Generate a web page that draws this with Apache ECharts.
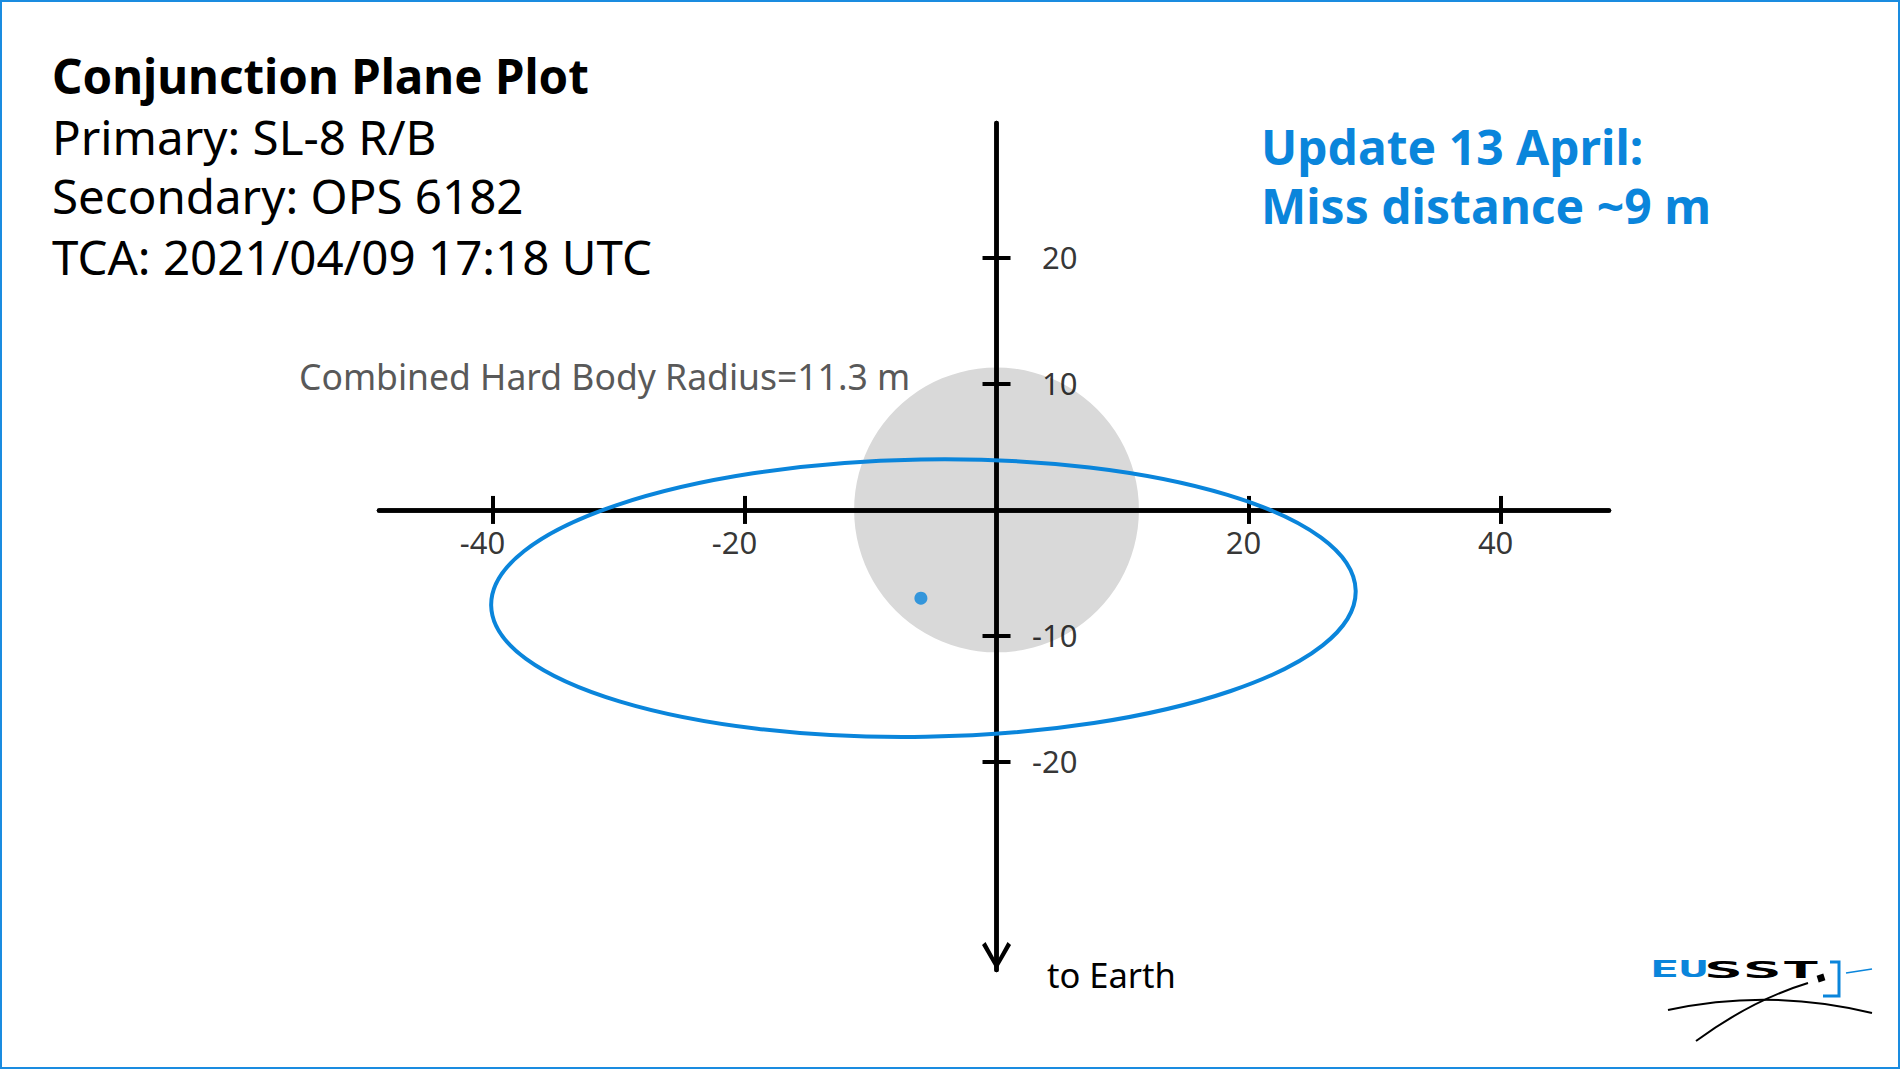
<!DOCTYPE html>
<html><head><meta charset="utf-8">
<script src="https://cdn.jsdelivr.net/npm/echarts@6/dist/echarts.min.js"></script>
<style>html,body{margin:0;padding:0;background:#fff}#c{width:1900px;height:1069px}</style>
</head><body><div id="c"></div>
<script>
// ---- data ----
const xTickValues = [-40, -20, 20, 40];
const yTickValues = [-20, -10, 10, 20];
const xAxisRange = [-49, 48.6];
const yAxisRange = [-36.5, 30.7];
const hardBodyCircle = [[0, 0, 11.3]];                  // centre x, centre y, radius (m)
const secondaryPosition = [[-6, -7]];                  // relative position of secondary (m)
const covarianceEllipse = [[-5.8, -7, 34.3, 11, 1.0]];  // centre x, centre y, semi-major, semi-minor, tilt (deg)
const titleText = 'Conjunction Plane Plot';
const infoLines = ['Primary: SL-8 R/B', 'Secondary: OPS 6182', 'TCA: 2021/04/09 17:18 UTC'];
const updateLines = ['Update 13 April:', 'Miss distance ~9 m'];
const hbrLabel = 'Combined Hard Body Radius=11.3 m';
const earthLabel = 'to Earth';

// ---- style ----
const BLUE = '#0a85db';
const FONT = '"Noto Sans", "Open Sans", sans-serif';
const axisLine = {onZero: true, lineStyle: {color: '#000', width: 4.5}};
const tickStyle = {color: '#000', width: 4};

const chart = echarts.init(document.getElementById('c'), null, {renderer: 'svg'});

const xTick = {show: true, customValues: xTickValues, length: 14, lineStyle: tickStyle};
const yTick = {show: true, customValues: yTickValues, length: 14, lineStyle: tickStyle};

function txt(x, y, text, size, weight, color) {
  return {type: 'text', x: x, y: y, z: 50,
    style: {text: text, fontSize: size, fontWeight: weight, fontFamily: FONT, fill: color,
            textVerticalAlign: 'middle', verticalAlign: 'middle'}};
}

const tickLabelBase = {show: true, position: 'inside', fontSize: 31, fontFamily: FONT, color: '#000',
                       textBorderWidth: 0,
                       formatter: p => String(p.value[0] !== 0 ? p.value[0] : p.value[1])};

const option = {
  backgroundColor: '#fff',
  animation: false,
  grid: {left: 379, right: 291, top: 123, bottom: 99, containLabel: false},
  xAxis: [
    {type: 'value', min: xAxisRange[0], max: xAxisRange[1], position: 'bottom', z: 3,
     axisLine: axisLine, axisTick: xTick, splitLine: {show: false}, axisLabel: {show: false}},
    {type: 'value', min: xAxisRange[0], max: xAxisRange[1], position: 'top', z: 3,
     axisLine: axisLine, axisTick: xTick, splitLine: {show: false}, axisLabel: {show: false}}
  ],
  yAxis: [
    {type: 'value', min: yAxisRange[0], max: yAxisRange[1], position: 'left', z: 3,
     axisLine: Object.assign({}, axisLine, {
       symbol: ['path://M14.5,0 L29,25 L25.5,28 L14.5,8 L3.5,28 L0,25 Z', 'none'],
       symbolSize: [29, 28], symbolOffset: [14, 0]}),
     axisTick: yTick, splitLine: {show: false}, axisLabel: {show: false}},
    {type: 'value', min: yAxisRange[0], max: yAxisRange[1], position: 'right', z: 3,
     axisLine: axisLine, axisTick: yTick, splitLine: {show: false}, axisLabel: {show: false}}
  ],
  series: [
    {type: 'custom', name: 'Hard body', xAxisIndex: 0, yAxisIndex: 0, z: 1, silent: true,
     data: hardBodyCircle,
     renderItem: (params, api) => {
       const c = api.coord([api.value(0), api.value(1)]);
       const r = api.size([api.value(2), 0])[0];
       return {type: 'circle', shape: {cx: c[0], cy: c[1], r: r}, style: {fill: '#d9d9d9'}};
     }},
    {type: 'custom', name: 'Covariance', xAxisIndex: 0, yAxisIndex: 0, z: 4, silent: true,
     data: covarianceEllipse,
     renderItem: (params, api) => {
       const c = api.coord([api.value(0), api.value(1)]);
       const rx = api.size([api.value(2), 0])[0];
       const ry = api.size([0, api.value(3)])[1];
       return {type: 'ellipse', x: c[0], y: c[1], rotation: api.value(4) * Math.PI / 180,
               shape: {cx: 0, cy: 0, rx: rx, ry: ry},
               style: {fill: 'none', stroke: BLUE, lineWidth: 4}};
     }},
    {type: 'scatter', name: 'Secondary', xAxisIndex: 0, yAxisIndex: 0, z: 5,
     data: secondaryPosition, symbolSize: 13, itemStyle: {color: BLUE}},
    // x tick labels, placed through the axis scale at (value, 0)
    {type: 'scatter', name: 'xLabels', xAxisIndex: 0, yAxisIndex: 0, z: 6, silent: true,
     data: xTickValues.map(v => ({value: [v, 0],
       label: Object.assign({}, tickLabelBase, {offset: v < 0 ? [-10, 32] : [-5, 32]})})),
     symbolSize: 1, itemStyle: {color: 'rgba(0,0,0,0)'}},
    // y tick labels, placed through the axis scale at (0, value)
    {type: 'scatter', name: 'yLabels', xAxisIndex: 0, yAxisIndex: 0, z: 6, silent: true,
     data: yTickValues.map(v => [0, v]),
     label: Object.assign({}, tickLabelBase, {align: 'right', offset: [81, -1]}),
     symbolSize: 1, itemStyle: {color: 'rgba(0,0,0,0)'}}
  ],
  graphic: [
    {type: 'rect', z: 100, shape: {x: 1, y: 1, width: 1898, height: 1067},
     style: {fill: 'none', stroke: '#1a8ce0', lineWidth: 2}},
    txt(52, 75, titleText, 47.5, 'bold', '#000'),
    txt(52, 136, infoLines[0], 47.5, 'normal', '#000'),
    txt(52, 195, infoLines[1], 47.5, 'normal', '#000'),
    txt(52, 256, infoLines[2], 47.5, 'normal', '#000'),
    txt(1261, 146, updateLines[0], 48, 'bold', BLUE),
    txt(1261, 205, updateLines[1], 48, 'bold', BLUE),
    txt(299, 376, hbrLabel, 35.5, 'normal', '#595959'),
    txt(1047, 974, earthLabel, 34.5, 'normal', '#000'),
    // EUSST logo
    {type: 'text', x: 1650, y: 958, scaleX: 2.1, style: {text: 'EU', fontSize: 23, fontWeight: 'bold', fontFamily: '"DejaVu Sans Mono", monospace', fill: BLUE, textVerticalAlign: 'top', verticalAlign: 'top'}},
    {type: 'text', x: 1704, y: 958, scaleX: 2.8, style: {text: 'SST', fontSize: 23, fontWeight: 'bold', fontFamily: '"DejaVu Sans Mono", monospace', fill: '#000', textVerticalAlign: 'top', verticalAlign: 'top'}},
    {type: 'rect', x: 1821, y: 978, rotation: 0.3, shape: {x: -3.5, y: -3.5, width: 7, height: 7}, style: {fill: '#000'}},
    {type: 'polyline', shape: {points: [[1830, 962], [1839, 962], [1839, 996], [1823, 996]]}, style: {fill: 'none', stroke: BLUE, lineWidth: 3}},
    {type: 'line', shape: {x1: 1846, y1: 973, x2: 1872, y2: 969}, style: {stroke: BLUE, lineWidth: 1.5}},
    {type: 'bezierCurve', shape: {x1: 1668, y1: 1010, cpx1: 1770, cpy1: 988, x2: 1872, y2: 1013}, style: {fill: 'none', stroke: '#000', lineWidth: 2}},
    {type: 'bezierCurve', shape: {x1: 1696, y1: 1041, cpx1: 1752, cpy1: 1000, x2: 1808, y2: 983}, style: {fill: 'none', stroke: '#000', lineWidth: 2}}
  ]
};
chart.setOption(option);
</script></body></html>
